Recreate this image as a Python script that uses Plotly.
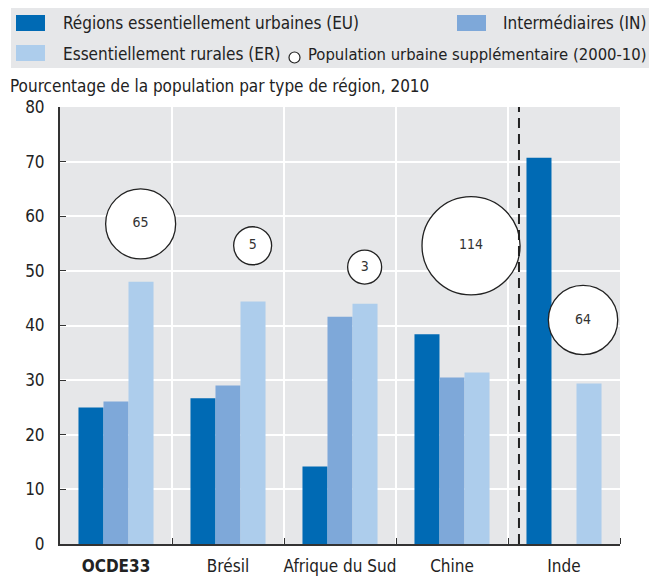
import plotly.graph_objects as go

# ---- data ----
categories = ["OCDE33", "Brésil", "Afrique du Sud", "Chine", "Inde"]
tick_labels = ["<b>OCDE33</b>", "Brésil", "Afrique du Sud", "Chine", "Inde"]
eu_values = [25.0, 26.7, 14.2, 38.4, 70.7]
in_values = [26.1, 29.0, 41.6, 30.5, None]
er_values = [48.0, 44.4, 44.0, 31.4, 29.4]
extra_urban_pop = [65, 5, 3, 114, 64]          # millions, 2000-10
bubble_level = [58.6, 54.6, 50.7, 54.6, 41.0]   # vertical placement (% axis)

series_names = ["Régions essentiellement urbaines (EU)", "Intermédiaires (IN)",
                "Essentiellement rurales (ER)"]
colors = ["#006AB4", "#7EA8D9", "#ADCDEC"]
BG = "#E6E7E9"
FONT = "DejaVu Sans Condensed, Liberation Sans Narrow, sans-serif"

W, H = 649, 576
L, R, T, B = 60, 620, 107, 544

def px(x):
    return (x - L) / (R - L)

def py(y):
    return (B - y) / (B - T)

xs = list(range(len(categories)))
fig = go.Figure()
for name, vals, c in zip(series_names, [eu_values, in_values, er_values], colors):
    fig.add_trace(go.Bar(x=xs, y=vals, name=name, marker_color=c,
                         marker_line_width=0, showlegend=False))

def bubble_diam(v):
    return 70 * (v / 65) ** 0.6 if v > 20 else 28 + 2 * v

bx = [i + (0.22 if i < 3 else 0.17) for i in xs]
fig.add_trace(go.Scatter(
    x=bx, y=bubble_level, mode="markers+text",
    text=[str(v) for v in extra_urban_pop], textposition="middle center",
    textfont=dict(size=14, color="#333333", family=FONT),
    marker=dict(size=[bubble_diam(v) for v in extra_urban_pop], color="white",
                line=dict(color="#222222", width=1.3), opacity=1),
    showlegend=False, cliponaxis=False))

shapes = []
annotations = []
# legend box
shapes.append(dict(type="rect", xref="paper", yref="paper", x0=px(11), x1=px(649),
                   y0=py(68), y1=py(8), fillcolor=BG, line_width=0, layer="below"))
# swatches
for (x0, x1, y0, y1, c) in [(16, 45, 15, 31, colors[0]), (457, 486, 15, 31, colors[1]),
                            (16, 45, 45, 61, colors[2])]:
    shapes.append(dict(type="rect", xref="paper", yref="paper", x0=px(x0), x1=px(x1),
                       y0=py(y1), y1=py(y0), fillcolor=c, line_width=0))
shapes.append(dict(type="circle", xref="paper", yref="paper", x0=px(289), x1=px(300),
                   y0=py(63), y1=py(52), fillcolor="white",
                   line=dict(color="#222222", width=1.2)))
for (x, y, t, s) in [(61, 23, series_names[0], 17), (501, 23, series_names[1], 17),
                     (61, 54, series_names[2], 17),
                     (306, 54, "Population urbaine supplémentaire (2000-10)", 16.5),
                     (8, 86, "Pourcentage de la population par type de région, 2010", 17)]:
    annotations.append(dict(text=t, xref="paper", yref="paper", x=px(x), y=py(y),
                            xanchor="left", yanchor="middle", showarrow=False,
                            font=dict(size=s, color="#222222", family=FONT)))
# dashed separator
shapes.append(dict(type="line", xref="x", yref="paper", x0=3.598, x1=3.598, y0=0, y1=1,
                   line=dict(color="#222222", width=2, dash="10px,6px")))

fig.update_layout(
    width=W, height=H, margin=dict(l=L, r=W - R, t=T, b=H - B, autoexpand=False),
    paper_bgcolor="white", plot_bgcolor=BG,
    barmode="group", bargap=0.33, bargroupgap=0,
    font=dict(family=FONT, size=17, color="#222222"),
    shapes=shapes, annotations=annotations, showlegend=False,
    xaxis=dict(range=[-0.5, 4.5], tickvals=xs, ticktext=tick_labels, showgrid=False,
               ticks="", showline=True, linecolor="#333333", linewidth=2,
               zeroline=False, fixedrange=True, automargin=False,
               ticklabelstandoff=6,
               tickfont=dict(size=17, color="#222222"),
               minor=dict(tickvals=[0.5, 1.5, 2.5, 3.5, 4.5], showgrid=True,
                          gridcolor="white", gridwidth=2, ticks="inside",
                          ticklen=6, tickcolor="#333333", tickwidth=1)),
    yaxis=dict(range=[0, 80], dtick=10, showgrid=True, gridcolor="white", gridwidth=2,
               ticks="inside", ticklen=6, tickcolor="#333333", tickwidth=1,
               showline=True, linecolor="#333333", linewidth=2, zeroline=False,
               automargin=False,
               ticklabelstandoff=10, tickfont=dict(size=17, color="#222222")),
)

fig.write_html("out.html", config={"displayModeBar": False},
               post_script="document.body.style.margin='0px';"
                           "document.body.style.overflow='hidden';")
